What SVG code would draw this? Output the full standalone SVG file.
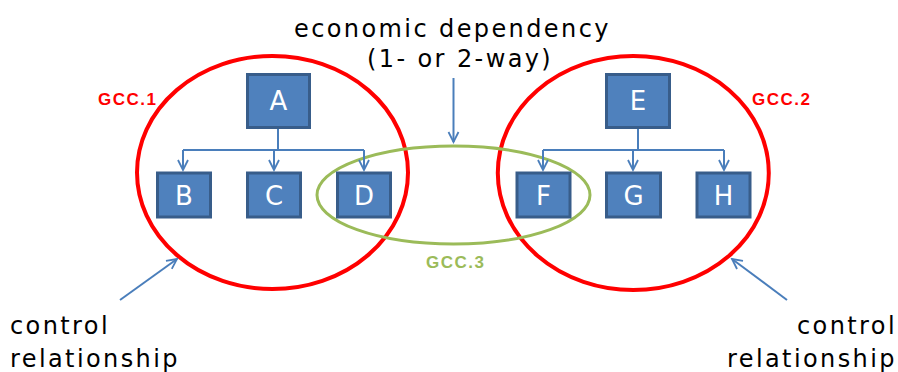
<svg xmlns="http://www.w3.org/2000/svg" width="898" height="372" viewBox="0 0 898 372">
<style>
.box{fill:#4F81BD;stroke:#385D8A;stroke-width:3}
.lbl{font-family:"DejaVu Sans",Verdana,sans-serif;font-size:26px;fill:#FFFFFF;text-anchor:middle}
.txt{font-family:"DejaVu Sans",Verdana,sans-serif;font-size:24px;fill:#000000;letter-spacing:2.4px}
.gcc{font-family:"Liberation Sans",Arial,sans-serif;font-size:17px;font-weight:bold;letter-spacing:1.5px}
.con{fill:none;stroke:#4A7EBB;stroke-width:2}
.red{fill:none;stroke:#FF0000;stroke-width:4}
.grn{fill:none;stroke:#9BBB59;stroke-width:3}
</style>
<defs>
<marker id="arr" markerUnits="userSpaceOnUse" markerWidth="14" markerHeight="14" viewBox="-12 -7 14 14" refX="0" refY="0" orient="auto">
<path d="M-10,-5 L0,0 L-10,5" fill="none" stroke="#4A7EBB" stroke-width="1.8"/>
</marker>
</defs>
<g id="shapes">
<ellipse id="gcc1-ring" class="red" cx="272.5" cy="172.5" rx="135.5" ry="116.5"/>
<ellipse id="gcc2-ring" class="red" cx="633.3" cy="173" rx="135.5" ry="117"/>
<ellipse id="gcc3-ring" class="grn" cx="453.5" cy="195" rx="136.5" ry="49"/>
</g>
<g id="connectors">
<path class="con" d="M278,129 V150"/>
<path class="con" d="M183,150 H364"/>
<path class="con" d="M183,150 V170" marker-end="url(#arr)"/>
<path class="con" d="M274,150 V170" marker-end="url(#arr)"/>
<path class="con" d="M364,150 V170" marker-end="url(#arr)"/>
<path class="con" d="M638,129 V150"/>
<path class="con" d="M543,150 H724"/>
<path class="con" d="M543,150 V170" marker-end="url(#arr)"/>
<path class="con" d="M633,150 V170" marker-end="url(#arr)"/>
<path class="con" d="M724,150 V170" marker-end="url(#arr)"/>
<path class="con" d="M453.5,78 V142" stroke-width="1.5" marker-end="url(#arr)"/>
<path class="con" d="M120,300 L177,259" stroke-width="1.5" marker-end="url(#arr)"/>
<path class="con" d="M787,300 L732,259" stroke-width="1.5" marker-end="url(#arr)"/>
</g>
<g id="node-A"><rect class="box" x="247.5" y="74.5" width="62" height="53"/><text class="lbl" x="278.5" y="110">A</text></g>
<g id="node-B"><rect class="box" x="157.5" y="173" width="53" height="44"/><text class="lbl" x="184" y="205">B</text></g>
<g id="node-C"><rect class="box" x="247.5" y="173" width="53" height="44"/><text class="lbl" x="274" y="205">C</text></g>
<g id="node-D"><rect class="box" x="337.5" y="173" width="53" height="44"/><text class="lbl" x="364" y="205">D</text></g>
<g id="node-E"><rect class="box" x="606.5" y="74.5" width="63" height="53"/><text class="lbl" x="638" y="110">E</text></g>
<g id="node-F"><rect class="box" x="517" y="173" width="53" height="44"/><text class="lbl" x="543.5" y="205">F</text></g>
<g id="node-G"><rect class="box" x="606.5" y="173" width="54" height="44"/><text class="lbl" x="633.5" y="205">G</text></g>
<g id="node-H"><rect class="box" x="697" y="173" width="53" height="44"/><text class="lbl" x="723.5" y="205">H</text></g>
<g id="labels">
<text class="gcc" x="98" y="105" fill="#FF0000">GCC.1</text>
<text class="gcc" x="752" y="105" fill="#FF0000">GCC.2</text>
<text class="gcc" x="426" y="268" fill="#9BBB59">GCC.3</text>
<text class="txt" x="294" y="37">economic dependency</text>
<text class="txt" x="367" y="67">(1- or 2-way)</text>
<text class="txt" x="10" y="334">control</text>
<text class="txt" x="10" y="367">relationship</text>
<text class="txt" x="797" y="334">control</text>
<text class="txt" x="727" y="367">relationship</text>
</g>
</svg>
